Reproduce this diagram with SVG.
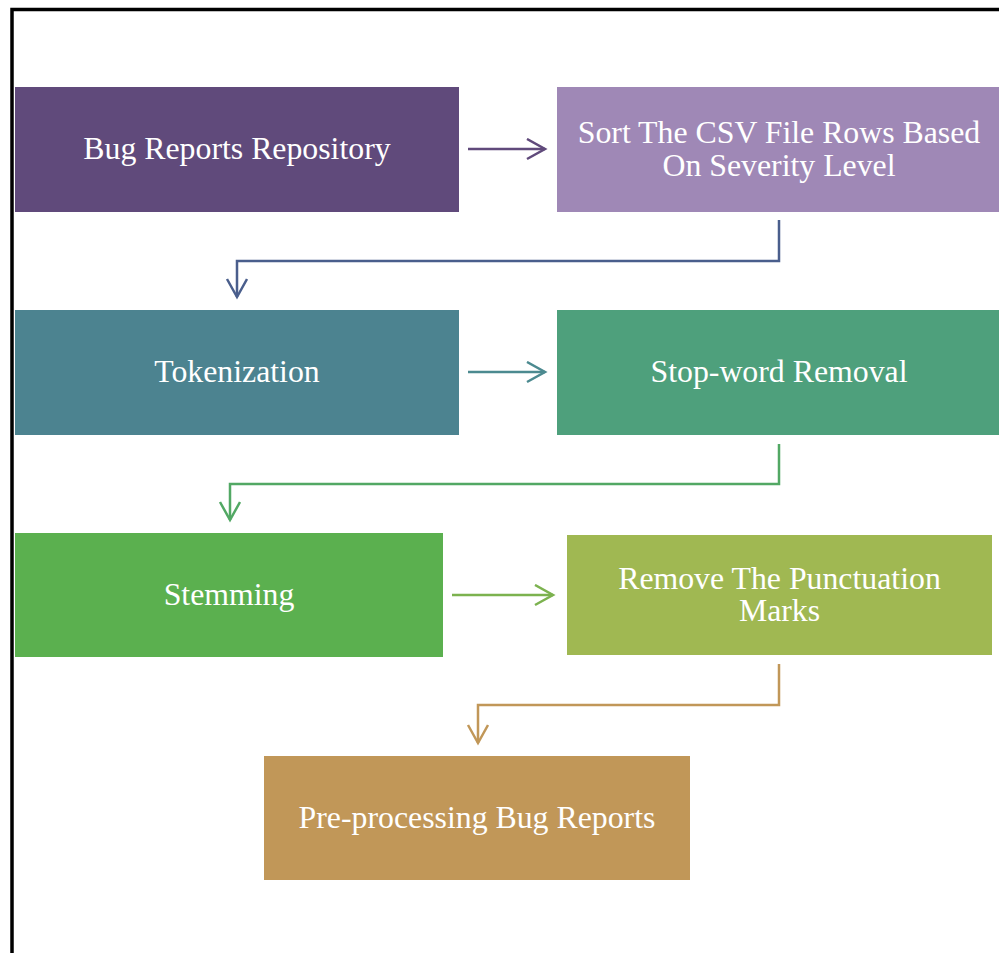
<svg xmlns="http://www.w3.org/2000/svg" width="999" height="953" viewBox="0 0 999 953">
<defs>
<style>
.t{font-family:"Liberation Serif",serif;font-size:31.8px;fill:#ffffff;text-anchor:middle}
.c{fill:none;stroke-width:2.5}
</style>
<marker id="a1" markerWidth="24" markerHeight="24" refX="19" refY="11" orient="auto" markerUnits="userSpaceOnUse"><path d="M1,1 L19,11 L1,21" fill="none" stroke="#604a7b" stroke-width="2.5"/></marker>
<marker id="a2" markerWidth="24" markerHeight="24" refX="19" refY="11" orient="auto" markerUnits="userSpaceOnUse"><path d="M1,1 L19,11 L1,21" fill="none" stroke="#4a5e8c" stroke-width="2.5"/></marker>
<marker id="a3" markerWidth="24" markerHeight="24" refX="19" refY="11" orient="auto" markerUnits="userSpaceOnUse"><path d="M1,1 L19,11 L1,21" fill="none" stroke="#4c8a90" stroke-width="2.5"/></marker>
<marker id="a4" markerWidth="24" markerHeight="24" refX="19" refY="11" orient="auto" markerUnits="userSpaceOnUse"><path d="M1,1 L19,11 L1,21" fill="none" stroke="#52a864" stroke-width="2.5"/></marker>
<marker id="a5" markerWidth="24" markerHeight="24" refX="19" refY="11" orient="auto" markerUnits="userSpaceOnUse"><path d="M1,1 L19,11 L1,21" fill="none" stroke="#7cb24f" stroke-width="2.5"/></marker>
<marker id="a6" markerWidth="24" markerHeight="24" refX="19" refY="11" orient="auto" markerUnits="userSpaceOnUse"><path d="M1,1 L19,11 L1,21" fill="none" stroke="#c19758" stroke-width="2.5"/></marker>
</defs>
<rect width="999" height="953" fill="#ffffff"/>
<path d="M12,953 L12,9.5 L999,9.5" fill="none" stroke="#000000" stroke-width="3.5"/>
<g id="connectors">
<path class="c" d="M468,149 L545,149" stroke="#604a7b" marker-end="url(#a1)"/>
<path class="c" d="M779,220 L779,261 L237,261 L237,297" stroke="#4a5e8c" marker-end="url(#a2)"/>
<path class="c" d="M468,372 L545,372" stroke="#4c8a90" marker-end="url(#a3)"/>
<path class="c" d="M779,444 L779,484 L230,484 L230,520" stroke="#52a864" marker-end="url(#a4)"/>
<path class="c" d="M452,595 L553,595" stroke="#7cb24f" marker-end="url(#a5)"/>
<path class="c" d="M779,664 L779,705 L478,705 L478,743" stroke="#c19758" marker-end="url(#a6)"/>
</g>
<g id="n1"><rect x="15" y="87" width="444" height="125" fill="#604a7b"/><text class="t" x="237" y="159">Bug Reports Repository</text></g>
<g id="n2"><rect x="557" y="87" width="444" height="125" fill="#9f88b6"/><text class="t" x="779" y="143">Sort The CSV File Rows Based</text><text class="t" x="779" y="176">On Severity Level</text></g>
<g id="n3"><rect x="15" y="310" width="444" height="125" fill="#4c8390"/><text class="t" x="237" y="382">Tokenization</text></g>
<g id="n4"><rect x="557" y="310" width="444" height="125" fill="#4ea07c"/><text class="t" x="779" y="382">Stop-word Removal</text></g>
<g id="n5"><rect x="15" y="533" width="428" height="124" fill="#5bb04f"/><text class="t" x="229" y="605">Stemming</text></g>
<g id="n6"><rect x="567" y="535" width="425" height="120" fill="#a0b852"/><text class="t" x="779.5" y="589">Remove The Punctuation</text><text class="t" x="779.5" y="621">Marks</text></g>
<g id="n7"><rect x="264" y="756" width="426" height="124" fill="#c19758"/><text class="t" x="477" y="828">Pre-processing Bug Reports</text></g>
</svg>
